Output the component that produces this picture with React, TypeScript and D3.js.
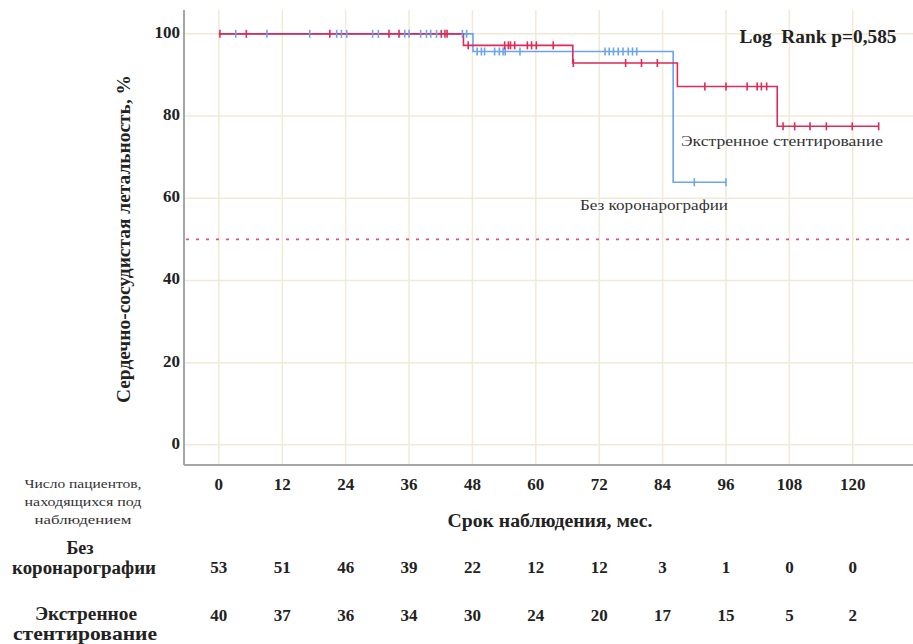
import React from 'react';
import * as d3 from 'd3';

// Kaplan-Meier steps: [time, survival after the step]
const stentSteps: [number, number][] = [[0, 100], [46.3, 97.2], [67.0, 92.9], [86.8, 87.2], [105.7, 77.5]];
const stentEnd = 124.9;
const stentCensored = [0.2, 5.2, 21.0, 32.2, 34.1, 42.1, 42.8, 43.2, 47.2, 54.1, 54.8, 55.2, 56.0, 58.4, 59.2, 60.1, 63.3,
  67.1, 77.0, 80.0, 83.0, 92.0, 96.0, 100.0, 101.9, 102.7, 103.7, 106.8, 109.0, 111.9, 115.0, 119.9, 124.9];

const noCagSteps: [number, number][] = [[0, 100], [48.1, 95.7], [86.0, 63.9]];
const noCagEnd = 96.0;
const noCagCensored = [3.2, 9.1, 17.2, 22.3, 23.2, 24.2, 29.1, 30.2, 35.2, 36.0, 38.2, 39.3, 40.1, 41.2, 46.1, 46.9,
  48.9, 49.7, 50.3, 52.2, 53.1, 53.8, 54.2, 57.0, 73.1, 73.9, 74.7, 75.6, 76.5, 77.5, 78.3, 79.1, 90.0, 96.0];

const xTicks = [0, 12, 24, 36, 48, 60, 72, 84, 96, 108, 120];
const yTicks = [0, 20, 40, 60, 80, 100];
const riskTimes = [0, 12, 24, 36, 48, 60, 72, 84, 96, 108, 120];
const riskNoCag = [53, 51, 46, 39, 22, 12, 12, 3, 1, 0, 0];
const riskStent = [40, 37, 36, 34, 30, 24, 20, 17, 15, 5, 2];

const RED = '#dd2a58';
const BLUE = '#6aa4ee';
const GRID = '#f0ead6';
const INK = '#222';
const FONT = '"Liberation Serif", "DejaVu Serif", serif';

function survivalAt(steps: [number, number][], t: number) {
  let s = steps[0][1];
  for (const [time, v] of steps) if (time <= t) s = v;
  return s;
}

export default function App() {
  const W = 913, H = 644;
  const x = d3.scaleLinear().domain([-6.6, 131.4]).range([184, 913]);
  const y = d3.scaleLinear().domain([-4.9, 105.8]).range([465, 10]);

  const stepLine = (steps: [number, number][], end: number) => {
    const pts: [number, number][] = steps.map(d => [d[0], d[1]]);
    pts.push([end, steps[steps.length - 1][1]]);
    return d3.line<[number, number]>().x(d => x(d[0])).y(d => y(d[1])).curve(d3.curveStepAfter)(pts) || '';
  };

  const censorMarks = (times: number[], steps: [number, number][], color: string) =>
    times.map((t, i) => {
      const cx = x(t), cy = y(survivalAt(steps, t));
      return <line key={color + i} x1={cx} x2={cx} y1={cy - 4} y2={cy + 4} stroke={color} strokeWidth={1.6} />;
    });

  const stretch = { lengthAdjust: 'spacingAndGlyphs' } as any;

  return (
    <svg width={W} height={H} style={{ position: 'absolute', left: 0, top: 0, background: '#fff' }} fontFamily={FONT}>
      {/* grid */}
      {xTicks.map(t => (
        <line key={'gx' + t} x1={x(t)} x2={x(t)} y1={10} y2={465} stroke={GRID} strokeWidth={1.5} />
      ))}
      {yTicks.map(t => (
        <line key={'gy' + t} x1={184} x2={913} y1={y(t)} y2={y(t)} stroke={GRID} strokeWidth={1.5} />
      ))}
      {/* reference line at 50 */}
      <line x1={186} x2={913} y1={y(50)} y2={y(50)} stroke="#e8507c" strokeWidth={1.6} strokeDasharray="3 7" />

      {/* axes */}
      <line x1={184} x2={184} y1={10} y2={465} stroke="#a6a6a6" strokeWidth={2} />
      <line x1={184} x2={913} y1={465} y2={465} stroke="#a6a6a6" strokeWidth={2} />

      {/* curves */}
      <path d={stepLine(noCagSteps, noCagEnd)} fill="none" stroke={BLUE} strokeWidth={1.6} />
      <path d={stepLine(stentSteps, stentEnd)} fill="none" stroke={RED} strokeWidth={1.6} />
      {censorMarks(noCagCensored, noCagSteps, BLUE)}
      {censorMarks(stentCensored, stentSteps, RED)}

      {/* tick labels */}
      {yTicks.map(t => (
        <text key={'yl' + t} x={180} y={y(t)} textAnchor="end" dominantBaseline="middle" fontSize={17} fontWeight="bold" fill={INK}>{t}</text>
      ))}
      {xTicks.map(t => (
        <text key={'xl' + t} x={x(t)} y={486} textAnchor="middle" dominantBaseline="middle" fontSize={17} fontWeight="bold" fill={INK}>{t}</text>
      ))}

      {/* axis titles */}
      <text transform={`translate(126, 239) rotate(-90)`} textAnchor="middle" dominantBaseline="middle" fontSize={18} fontWeight="bold" fill={INK} textLength={328} {...stretch}>
        Сердечно-сосудистая летальность, %
      </text>
      <text x={550} y={523} textAnchor="middle" dominantBaseline="middle" fontSize={18} fontWeight="bold" fill={INK} textLength={205} {...stretch}>
        Срок наблюдения, мес.
      </text>

      {/* annotations */}
      <text x={818} y={39} textAnchor="middle" dominantBaseline="middle" fontSize={18} fontWeight="bold" fill={INK} xmlSpace="preserve" textLength={157} {...stretch}>
        Log  Rank p=0,585
      </text>
      <text x={681} y={143} dominantBaseline="middle" fontSize={14} fill="#333" textLength={202} {...stretch}>Экстренное стентирование</text>
      <text x={580} y={207} dominantBaseline="middle" fontSize={14} fill="#333" textLength={148} {...stretch}>Без коронарографии</text>

      {/* risk table */}
      <g fontSize={13} fill="#333" textAnchor="middle">
        <text x={83} y={485} dominantBaseline="middle" textLength={117} {...stretch}>Число пациентов,</text>
        <text x={83} y={503} dominantBaseline="middle" textLength={117} {...stretch}>находящихся под</text>
        <text x={83} y={521} dominantBaseline="middle" textLength={97} {...stretch}>наблюдением</text>
      </g>
      <g fontSize={18} fontWeight="bold" fill={INK} textAnchor="middle">
        <text x={80} y={550} dominantBaseline="middle">Без</text>
        <text x={84} y={570} dominantBaseline="middle" textLength={144} {...stretch}>коронарографии</text>
        <text x={86} y={616} dominantBaseline="middle" textLength={102} {...stretch}>Экстренное</text>
        <text x={85} y={636} dominantBaseline="middle" textLength={144} {...stretch}>стентирование</text>
      </g>
      {riskTimes.map((t, i) => (
        <text key={'r1' + t} x={x(t)} y={569} textAnchor="middle" dominantBaseline="middle" fontSize={17} fontWeight="bold" fill={INK}>{riskNoCag[i]}</text>
      ))}
      {riskTimes.map((t, i) => (
        <text key={'r2' + t} x={x(t)} y={617} textAnchor="middle" dominantBaseline="middle" fontSize={17} fontWeight="bold" fill={INK}>{riskStent[i]}</text>
      ))}
    </svg>
  );
}
